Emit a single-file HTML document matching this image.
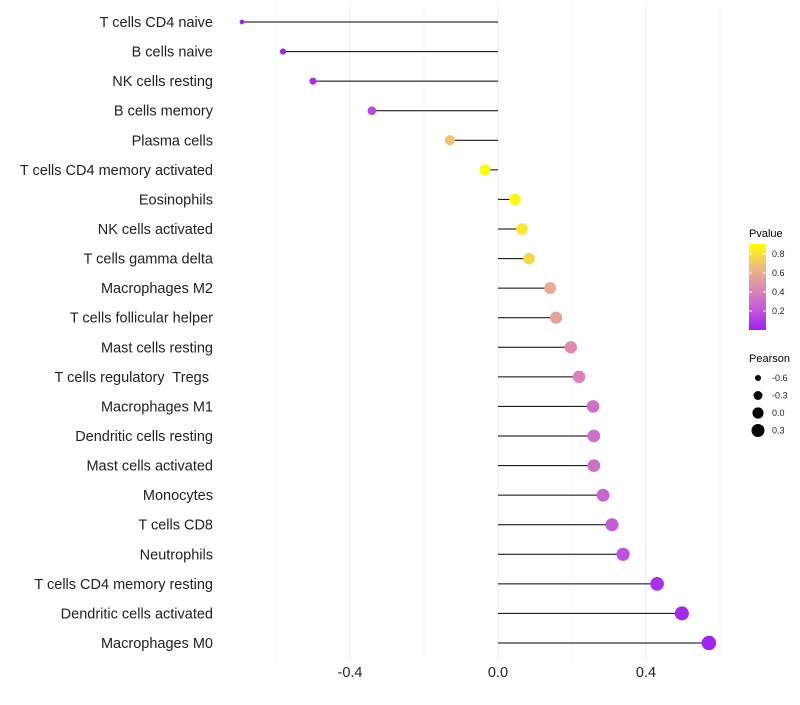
<!DOCTYPE html>
<html><head><meta charset="utf-8"><style>
body{margin:0;background:#fff;font-family:"Liberation Sans",sans-serif}
text{white-space:pre}
</style></head><body>
<svg id="chart" width="800" height="700" xmlns="http://www.w3.org/2000/svg">
<defs><linearGradient id="pg" x1="0" y1="1" x2="0" y2="0">
<stop offset="0" stop-color="#A020F0"/><stop offset="0.25" stop-color="#C45CD8"/>
<stop offset="0.5" stop-color="#DE8CAE"/><stop offset="0.72" stop-color="#EEB886"/>
<stop offset="1" stop-color="#FFFF00"/></linearGradient></defs>
<g id="grid"></g><g id="marks"></g><g id="labels"></g>
<g>
<text x="749" y="237" font-size="11">Pvalue</text>
<rect x="749" y="244" width="17" height="86" fill="url(#pg)"/>
<g id="pticks" font-size="9"></g>
</g>
<g>
<text x="749" y="362" font-size="11">Pearson</text>
<g id="sizeleg" font-size="9"></g>
</g>
</svg>
<script>
const categories=["T cells CD4 naive","B cells naive","NK cells resting","B cells memory","Plasma cells","T cells CD4 memory activated","Eosinophils","NK cells activated","T cells gamma delta","Macrophages M2","T cells follicular helper","Mast cells resting","T cells regulatory  Tregs ","Macrophages M1","Dendritic cells resting","Mast cells activated","Monocytes","T cells CD8","Neutrophils","T cells CD4 memory resting","Dendritic cells activated","Macrophages M0"];
const pearson=[-0.692,-0.581,-0.5,-0.341,-0.13,-0.035,0.046,0.065,0.084,0.141,0.157,0.197,0.219,0.257,0.259,0.259,0.284,0.308,0.338,0.43,0.497,0.57];
const pvalues=[0.01,0.02,0.05,0.15,0.68,0.9,0.88,0.82,0.76,0.6,0.55,0.45,0.4,0.32,0.32,0.32,0.27,0.22,0.19,0.06,0.03,0.01];
const xTicks=[-0.4,0.0,0.4];
const pTicks=[0.2,0.4,0.6,0.8];
const sizeTicks=[-0.6,-0.3,0.0,0.3];
const NS="http://www.w3.org/2000/svg";
const x=v=>498+v*370;
const y=i=>22+i*(621/21);
const r=v=>Math.sqrt(Math.max(2,9+(v+0.6)*36.7));
const py=p=>330-p*(86/0.906);
const stops=[[0,[160,32,240]],[0.25,[196,92,216]],[0.5,[222,140,174]],[0.72,[238,184,134]],[1,[255,255,0]]];
function col(p){let t=Math.min(1,Math.max(0,p/0.906));for(let k=1;k<stops.length;k++){if(t<=stops[k][0]){const a=stops[k-1],b=stops[k];const f=(t-a[0])/(b[0]-a[0]);return 'rgb('+a[1].map((c,j)=>Math.round(c+(b[1][j]-c)*f)).join(',')+')';}}return 'rgb(255,255,0)';}
function mk(tag,attrs,parent){const e=document.createElementNS(NS,tag);for(const k in attrs)e.setAttribute(k,attrs[k]);parent.appendChild(e);return e;}
const grid=document.getElementById('grid'),marks=document.getElementById('marks'),labels=document.getElementById('labels');
[-0.6,-0.2,0.2,0.6].forEach(v=>{const l=mk('line',{x1:x(v),x2:x(v),y1:5,y2:660,stroke:'#f2f2f2','stroke-width':0.6},grid);

});
xTicks.forEach(v=>{const l=mk('line',{x1:x(v),x2:x(v),y1:5,y2:660,stroke:'#ebebeb','stroke-width':1.1},grid);


const t=mk('text',{x:x(v),y:677,'text-anchor':'middle','font-size':14.5,fill:'#222'},labels);t.textContent=v.toFixed(1);

});
categories.forEach((c,i)=>{const t=mk('text',{x:213,y:y(i)+5,'text-anchor':'end','font-size':14.5,fill:'#222'},labels);t.textContent=c;


const l=mk('line',{x1:x(0),x2:x(pearson[i]),y1:y(i),y2:y(i),stroke:'#000','stroke-width':1},marks);


const d=mk('circle',{cx:x(pearson[i]),cy:y(i),r:r(pearson[i]),fill:col(pvalues[i])},marks);

});
const pt=document.getElementById('pticks');
pTicks.forEach(p=>{mk('line',{x1:749,x2:752,y1:py(p),y2:py(p),stroke:'#fff'},pt);mk('line',{x1:763,x2:766,y1:py(p),y2:py(p),stroke:'#fff'},pt);
const t=mk('text',{x:772,y:py(p)+3,fill:'#222'},pt);t.textContent=p.toFixed(1);

});
const sl=document.getElementById('sizeleg');
sizeTicks.forEach((s,k)=>{const cy=378+k*17.5;const c=mk('circle',{cx:758,cy:cy,r:r(s),fill:'#000'},sl);


const t=mk('text',{x:772,y:cy+3,fill:'#222'},sl);t.textContent=s.toFixed(1);

});
</script>
</body></html>
